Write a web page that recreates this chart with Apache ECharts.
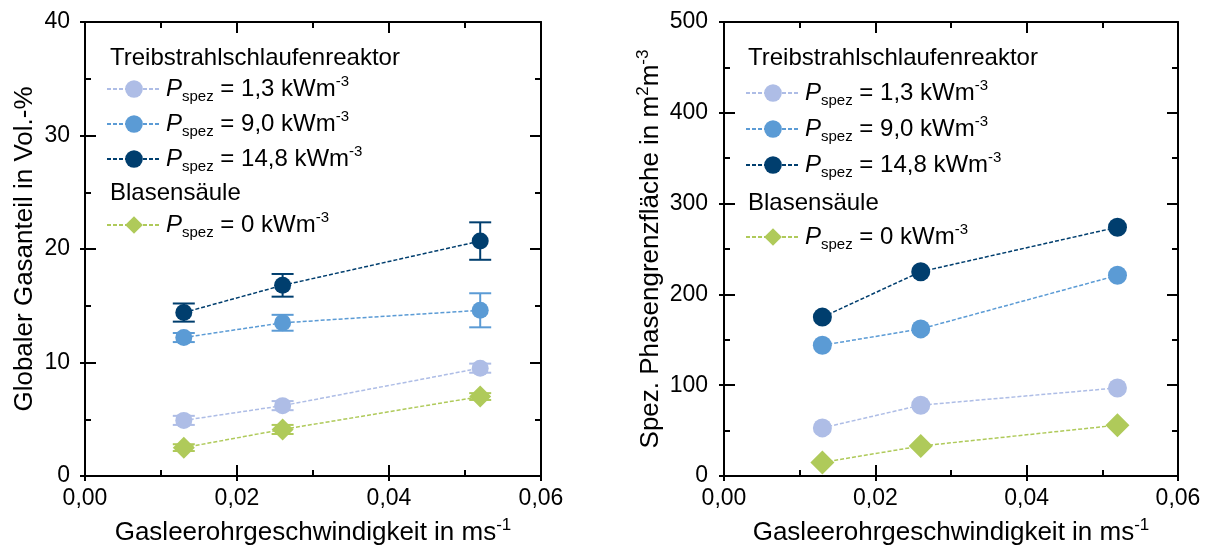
<!DOCTYPE html>
<html>
<head>
<meta charset="utf-8">
<script src="https://cdn.jsdelivr.net/npm/echarts@6/dist/echarts.min.js"></script>
<style>html,body{margin:0;padding:0;background:#fff}#c{width:1210px;height:551px}</style>
</head>
<body>
<div id="c"></div>
<script>
// ---- data ----
const xVals = [0.013, 0.026, 0.052];
const xTicks = ['0,00', '0,02', '0,04', '0,06'];
// left: Globaler Gasanteil (Vol.-%)
const gasLight = [4.9, 6.2, 9.5];
const gasLightErr = [0.4, 0.4, 0.4];
const gasMed = [12.2, 13.5, 14.6];
const gasMedErr = [0.4, 0.7, 1.5];
const gasDark = [14.4, 16.8, 20.7];
const gasDarkErr = [0.8, 1.0, 1.65];
const gasGreen = [2.5, 4.1, 7.0];
const gasGreenErr = [0.3, 0.4, 0.3];
// right: Spez. Phasengrenzfläche (m2/m3)
const areaLight = [53, 78, 97];
const areaMed = [144, 162, 221];
const areaDark = [175, 225, 274];
const areaGreen = [15, 33, 56];

const legendNames = ['1,3 kWm', '9,0 kWm', '14,8 kWm', '0 kWm'];
const cLight = '#aebde6', cMed = '#5b9bd5', cDark = '#003e6e', cGreen = '#afca5a';
const FONT = 'Liberation Sans';
const TXT = '#000';

const chart = echarts.init(document.getElementById('c'), null, {renderer: 'canvas'});

function pts(ys) { return xVals.map((x, i) => [x, ys[i]]); }
function errPts(ys, es) { return xVals.map((x, i) => [x, ys[i] - es[i], ys[i] + es[i]]); }

const grids = [
  {left: 85, top: 22, width: 456, height: 454},
  {left: 724, top: 22, width: 454, height: 454}
];

const richLegend = {
  i: {fontFamily: FONT, fontSize: 24, fontStyle: 'italic', color: TXT, lineHeight: 30},
  s: {fontFamily: FONT, fontSize: 15, color: TXT, verticalAlign: 'bottom', lineHeight: 14},
  t: {fontFamily: FONT, fontSize: 24, color: TXT, lineHeight: 30},
  u: {fontFamily: FONT, fontSize: 15, color: TXT, verticalAlign: 'top', lineHeight: 12}
};
function legendFmt(name) { return '{i|P}{s|spez}{t| = ' + name + '}{u|-3}'; }

const nameRich = {
  a: {fontFamily: FONT, fontSize: 26, color: TXT, lineHeight: 32},
  b: {fontFamily: FONT, fontSize: 17, color: TXT, verticalAlign: 'top', lineHeight: 13}
};
const tickStyle = {color: '#000', width: 2};
const lineCfg = {show: true, onZero: false, lineStyle: {color: '#000', width: 2}};

const xAxes = [], yAxes = [];
const yMax = [40, 500], yInt = [10, 100];
for (let g = 0; g < 2; g++) {
  const base = {gridIndex: g, type: 'value', min: 0, max: 0.06, interval: 0.02,
    axisLine: lineCfg, splitLine: {show: false}};
  xAxes.push(Object.assign({}, base, {
    position: 'bottom',
    axisTick: {inside: true, length: 11, lineStyle: tickStyle},
    minorTick: {show: true, splitNumber: 2, length: 6, lineStyle: tickStyle},
    axisLabel: {fontFamily: FONT, fontSize: 23, color: TXT, margin: 11,
      formatter: v => xTicks[Math.round(v / 0.02)]},
    name: '{a|Gasleerohrgeschwindigkeit in ms}{b|-1}',
    nameLocation: 'middle', nameGap: 41,
    nameTextStyle: {rich: nameRich}
  }));
  xAxes.push(Object.assign({}, base, {
    position: 'top',
    axisTick: {inside: true, length: 11, lineStyle: tickStyle},
    minorTick: {show: true, splitNumber: 2, length: 6, lineStyle: tickStyle},
    axisLabel: {show: false}
  }));
  xAxes.push(Object.assign({}, base, {
    position: 'bottom',
    axisTick: {inside: false, length: 5, lineStyle: tickStyle},
    axisLabel: {show: false}
  }));

  const ybase = {gridIndex: g, type: 'value', min: 0, max: yMax[g], interval: yInt[g],
    axisLine: lineCfg, splitLine: {show: false}};
  const yName = g === 0 ? '{a|Globaler Gasanteil in Vol.-%}'
    : '{a|Spez. Phasengrenzfläche in m}{b|2}{a|m}{b|-3}';
  yAxes.push(Object.assign({}, ybase, {
    position: 'left',
    axisTick: {inside: true, length: 11, lineStyle: tickStyle},
    minorTick: {show: true, splitNumber: 2, length: 6, lineStyle: tickStyle},
    axisLabel: {fontFamily: FONT, fontSize: 23, color: TXT, margin: g === 0 ? 15 : 16},
    name: yName, nameLocation: 'middle', nameGap: g === 0 ? 44 : 57, nameRotate: 90,
    nameTextStyle: {rich: nameRich}
  }));
  yAxes.push(Object.assign({}, ybase, {
    position: 'right',
    axisTick: {inside: true, length: 11, lineStyle: tickStyle},
    minorTick: {show: true, splitNumber: 2, length: 6, lineStyle: tickStyle},
    axisLabel: {show: false}
  }));
  yAxes.push(Object.assign({}, ybase, {
    position: 'left',
    axisTick: {inside: false, length: 5, lineStyle: tickStyle},
    axisLabel: {show: false}
  }));
}

function lineSeries(name, g, ys, color, symbol, size) {
  return {
    type: 'line', name: name, xAxisIndex: g * 3, yAxisIndex: g * 3,
    data: pts(ys), symbol: symbol, symbolSize: size, showSymbol: true,
    lineStyle: {color: color, width: 1.5, type: [4, 2]},
    itemStyle: {color: color, opacity: 1}, z: 5, animation: false
  };
}
function errSeries(g, ys, es, color) {
  return {
    type: 'custom', xAxisIndex: g * 3, yAxisIndex: g * 3, z: 3, animation: false,
    silent: true, legendHoverLink: false,
    data: errPts(ys, es),
    renderItem: function (params, api) {
      const lo = api.coord([api.value(0), api.value(1)]);
      const hi = api.coord([api.value(0), api.value(2)]);
      const w = 11;
      const st = {stroke: color, lineWidth: 2};
      return {type: 'group', children: [
        {type: 'line', shape: {x1: lo[0], y1: lo[1], x2: hi[0], y2: hi[1]}, style: st},
        {type: 'line', shape: {x1: lo[0] - w, y1: lo[1], x2: lo[0] + w, y2: lo[1]}, style: st},
        {type: 'line', shape: {x1: hi[0] - w, y1: hi[1], x2: hi[0] + w, y2: hi[1]}, style: st}
      ]};
    }
  };
}

const series = [
  errSeries(0, gasLight, gasLightErr, cLight),
  errSeries(0, gasMed, gasMedErr, cMed),
  errSeries(0, gasDark, gasDarkErr, cDark),
  errSeries(0, gasGreen, gasGreenErr, cGreen),
  lineSeries(legendNames[0], 0, gasLight, cLight, 'circle', 17),
  lineSeries(legendNames[1], 0, gasMed, cMed, 'circle', 17),
  lineSeries(legendNames[2], 0, gasDark, cDark, 'circle', 17),
  lineSeries(legendNames[3], 0, gasGreen, cGreen, 'diamond', 22),
  lineSeries(legendNames[0], 1, areaLight, cLight, 'circle', 19),
  lineSeries(legendNames[1], 1, areaMed, cMed, 'circle', 19),
  lineSeries(legendNames[2], 1, areaDark, cDark, 'circle', 19),
  lineSeries(legendNames[3], 1, areaGreen, cGreen, 'diamond', 24)
];

function legend(left, top, names, gap) {
  return {
    left: left, top: top, orient: 'vertical', data: names, itemGap: gap,
    itemWidth: 54, itemHeight: 22, selectedMode: false, padding: 0,
    formatter: legendFmt, textStyle: {rich: richLegend}
  };
}

const headers = [
  {x: 110, y: 58, t: 'Treibstrahlschlaufenreaktor'},
  {x: 110, y: 193, t: 'Blasensäule'},
  {x: 748, y: 58, t: 'Treibstrahlschlaufenreaktor'},
  {x: 748, y: 203, t: 'Blasensäule'}
];

chart.setOption({
  backgroundColor: '#fff',
  animation: false,
  grid: grids,
  xAxis: xAxes,
  yAxis: yAxes,
  legend: [
    legend(106, 74, legendNames.slice(0, 3), 5),
    legend(106, 210, legendNames.slice(3), 4),
    legend(745, 78, legendNames.slice(0, 3), 6),
    legend(745, 222, legendNames.slice(3), 6)
  ],
  graphic: headers.map(h => ({
    type: 'text', x: h.x, y: h.y,
    style: {text: h.t, fontFamily: FONT, fontSize: 24, fill: TXT, verticalAlign: 'middle'}
  })),
  series: series
});
</script>
</body>
</html>
